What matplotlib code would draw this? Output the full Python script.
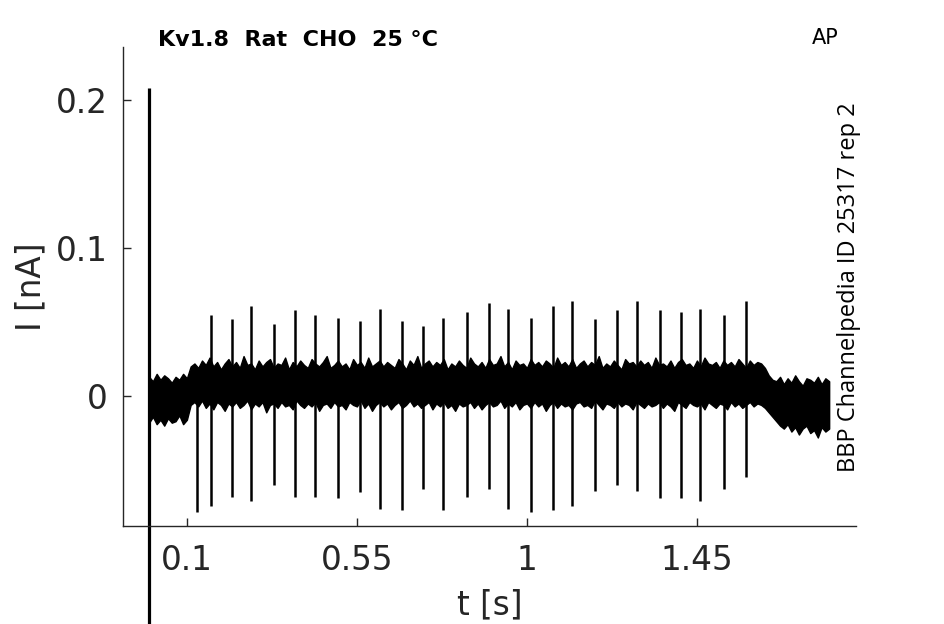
import numpy as np
import matplotlib
matplotlib.use("Agg")
import matplotlib.pyplot as plt

# ---- data ----
title = "Kv1.8  Rat  CHO  25 °C"
protocol = "AP"
source = "BBP Channelpedia ID 25317 rep 2"

x_ticks = [0.1, 0.55, 1.0, 1.45]
x_ticklabels = ["0.1", "0.55", "1", "1.45"]
y_ticks = [0.0, 0.1, 0.2]
y_ticklabels = ["0", "0.1", "0.2"]

# capacitive artifact at t = 0
artifact_t = 0.0
artifact_top = 0.208
artifact_bottom = -0.20

# noise band envelope, sampled every 0.01 s from 0 to 1.80 s
env_t = np.linspace(0.0, 1.80, 181)
env_upper = [
    0.013, 0.010, 0.015, 0.011, 0.014, 0.012, 0.009, 0.013, 0.011, 0.015, 0.012,
    0.020,
    0.022, 0.019, 0.024, 0.021, 0.026, 0.020, 0.023, 0.018, 0.022, 0.025,
    0.020, 0.023, 0.019, 0.027, 0.021, 0.022, 0.018, 0.024, 0.020, 0.023,
    0.025, 0.019, 0.022, 0.021, 0.026, 0.018, 0.023, 0.020, 0.024, 0.021,
    0.019, 0.025, 0.022, 0.020, 0.023, 0.027, 0.019, 0.021, 0.024, 0.020,
    0.022, 0.018, 0.025, 0.021, 0.023, 0.019, 0.026, 0.020, 0.022, 0.024,
    0.020, 0.023, 0.021, 0.019, 0.025, 0.022, 0.018, 0.024, 0.021, 0.027,
    0.019, 0.022, 0.024, 0.020, 0.023, 0.021, 0.025, 0.018, 0.022, 0.020,
    0.024, 0.021, 0.019, 0.026, 0.022, 0.020, 0.023, 0.019, 0.025, 0.021,
    0.022, 0.027, 0.020, 0.023, 0.018, 0.024, 0.021, 0.022, 0.019, 0.025,
    0.021, 0.023, 0.020, 0.024, 0.022, 0.019, 0.026, 0.021, 0.023, 0.020,
    0.025, 0.019, 0.022, 0.024, 0.020, 0.023, 0.021, 0.027, 0.019, 0.022,
    0.020, 0.024, 0.021, 0.018, 0.025, 0.022, 0.023, 0.020, 0.024, 0.021,
    0.023, 0.019, 0.026, 0.021, 0.022, 0.020, 0.024, 0.019, 0.023, 0.025,
    0.021, 0.022, 0.019, 0.024, 0.020, 0.026, 0.022, 0.021, 0.023, 0.019,
    0.024, 0.021, 0.023, 0.020, 0.025, 0.022, 0.019, 0.024, 0.021, 0.023,
    0.022,
    0.019, 0.014, 0.011,
    0.010, 0.013, 0.008, 0.012, 0.009, 0.014, 0.010, 0.007, 0.012, 0.011,
    0.009, 0.013, 0.008, 0.012, 0.010]
env_lower = [
    -0.018, -0.014, -0.019, -0.016, -0.020, -0.015, -0.018, -0.017, -0.013, -0.019, -0.016,
    -0.006,
    -0.004, -0.007, -0.003, -0.008, -0.005, -0.009, -0.004, -0.006, -0.010, -0.005,
    -0.007, -0.004, -0.008, -0.006, -0.003, -0.009, -0.005, -0.007, -0.004, -0.011,
    -0.006, -0.005, -0.008, -0.004, -0.007, -0.006, -0.009, -0.003, -0.006, -0.008,
    -0.005, -0.007, -0.004, -0.010, -0.006, -0.005, -0.008, -0.004, -0.007, -0.006,
    -0.009, -0.004, -0.006, -0.007, -0.003, -0.008, -0.005, -0.010, -0.006, -0.004,
    -0.007, -0.005, -0.009, -0.006, -0.004, -0.008, -0.006, -0.003, -0.007, -0.005,
    -0.008, -0.006, -0.004, -0.009, -0.005, -0.007, -0.004, -0.008, -0.006, -0.010,
    -0.005, -0.007, -0.006, -0.004, -0.008, -0.005, -0.009, -0.006, -0.004, -0.007,
    -0.006, -0.003, -0.008, -0.005, -0.007, -0.004, -0.009, -0.006, -0.005, -0.008,
    -0.004, -0.007, -0.005, -0.010, -0.006, -0.004, -0.008, -0.005, -0.007, -0.006,
    -0.009, -0.005, -0.004, -0.007, -0.006, -0.008, -0.003, -0.006, -0.009, -0.005,
    -0.006, -0.008, -0.004, -0.007, -0.005, -0.006, -0.009, -0.004, -0.006, -0.008,
    -0.005, -0.007, -0.006, -0.004, -0.008, -0.005, -0.007, -0.010, -0.004, -0.006,
    -0.008, -0.004, -0.006, -0.007, -0.005, -0.009, -0.004, -0.006, -0.008, -0.005,
    -0.006, -0.009, -0.004, -0.007, -0.005, -0.008, -0.006, -0.004, -0.007, -0.005,
    -0.006,
    -0.008, -0.011, -0.014,
    -0.017, -0.020, -0.022, -0.019, -0.024, -0.021, -0.026, -0.022, -0.020, -0.025,
    -0.023, -0.028, -0.021, -0.024, -0.022]

# stimulus spikes (first one only has a downward deflection)
spike_t = [0.127, 0.163, 0.219, 0.269, 0.330, 0.387, 0.439, 0.501, 0.559,
           0.611, 0.670, 0.726, 0.778, 0.842, 0.899, 0.950, 1.011, 1.069,
           1.119, 1.180, 1.238, 1.291, 1.352, 1.408, 1.458, 1.521, 1.580]
spike_up = [np.nan, 0.055, 0.052, 0.061, 0.049, 0.058, 0.055, 0.053, 0.051,
            0.059, 0.051, 0.047, 0.053, 0.057, 0.063, 0.059, 0.053, 0.061,
            0.064, 0.052, 0.058, 0.064, 0.058, 0.057, 0.059, 0.055, 0.064]
spike_down = [-0.078, -0.074, -0.068, -0.071, -0.060, -0.068, -0.068, -0.069,
              -0.065, -0.076, -0.077, -0.063, -0.077, -0.068, -0.063, -0.076,
              -0.078, -0.077, -0.074, -0.064, -0.060, -0.064, -0.069, -0.069,
              -0.071, -0.063, -0.055]

# ---- figure ----
gray = "#262626"
fig = plt.figure(figsize=(9.45, 6.24), dpi=100)
ax = fig.add_axes([0.1302, 0.157, 0.7756, 0.7677])

ax.fill_between(env_t, env_lower, env_upper, color="black", lw=1.0,
                edgecolor="black")
up = np.array(spike_up, dtype=float)
ax.vlines(spike_t[1:], 0.01, up[1:], color="black", lw=1.8)
ax.vlines(spike_t, 0.0, spike_down, color="black", lw=1.8)
ax.plot([artifact_t, artifact_t], [artifact_bottom, artifact_top],
        color="black", lw=2.3, clip_on=False, solid_capstyle="butt")

ax.set_xlim(-0.069, 1.871)
ax.set_ylim(-0.0878, 0.2358)

for s in ["top", "right"]:
    ax.spines[s].set_visible(False)
for s in ["left", "bottom"]:
    ax.spines[s].set_color(gray)
    ax.spines[s].set_linewidth(1.0)

ax.set_xticks(x_ticks)
ax.set_xticklabels(x_ticklabels)
ax.set_yticks(y_ticks)
ax.set_yticklabels(y_ticklabels)
ax.tick_params(direction="in", length=6, width=1.0, colors=gray,
               labelsize=23.5, labelcolor=gray)
ax.tick_params(axis="y", pad=11)
ax.tick_params(axis="x", pad=13)

ax.set_xlabel("t [s]", fontsize=23.5, color=gray, labelpad=8)
ax.set_ylabel("I [nA]", fontsize=23.5, color=gray, labelpad=6)

fig.text(158 / 945, 1 - 40 / 624, title, fontsize=16, fontweight="bold",
         ha="left", va="center", color="black")
fig.text(825 / 945, 1 - 38 / 624, protocol, fontsize=15, ha="center",
         va="center", color="black")
fig.text(849 / 945, 1 - 287 / 624, source, fontsize=17, rotation=90,
         ha="center", va="center", color="black", family="Open Sans")

fig.savefig("out.png", dpi=100)
